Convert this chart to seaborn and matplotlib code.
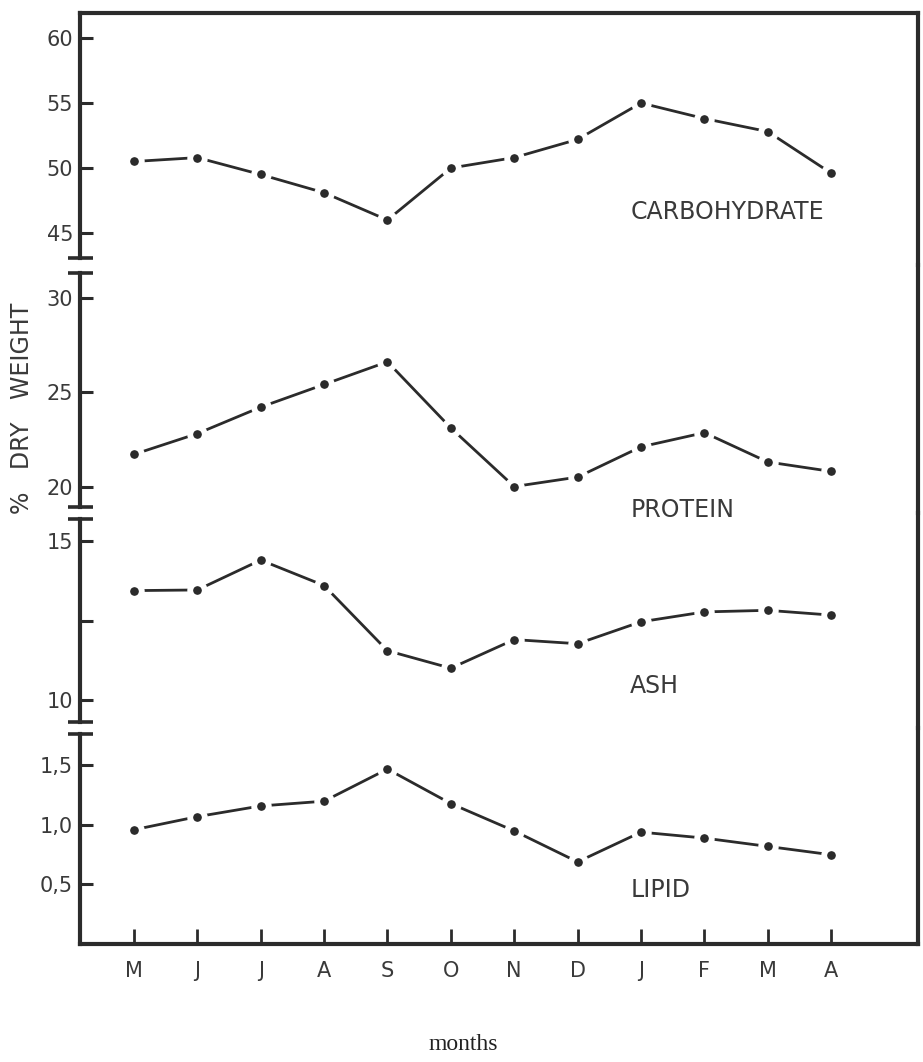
import numpy as np
import pandas as pd
import matplotlib
matplotlib.use("Agg")
import matplotlib.pyplot as plt
import matplotlib.transforms as mtransforms
import seaborn as sns

# ---- data ----
months = ["M", "J", "J", "A", "S", "O", "N", "D", "J", "F", "M", "A"]
carbohydrate = [50.5, 50.8, 49.5, 48.1, 46.0, 50.0, 50.8, 52.2, 55.0, 53.8, 52.8, 49.6]
protein = [21.7, 22.8, 24.2, 25.4, 26.6, 23.1, 20.0, 20.5, 22.1, 22.85, 21.3, 20.8]
ash = [13.44, 13.46, 14.4, 13.6, 11.55, 11.0, 11.9, 11.77, 12.46, 12.77, 12.82, 12.67]
lipid = [0.96, 1.07, 1.16, 1.2, 1.47, 1.18, 0.95, 0.69, 0.94, 0.89, 0.82, 0.75]

series_names = ["CARBOHYDRATE", "PROTEIN", "ASH", "LIPID"]
series_values = [carbohydrate, protein, ash, lipid]
y_ticks = [[45, 50, 55, 60], [20, 25, 30], [10, 12.5, 15], [0.5, 1.0, 1.5]]
y_ticklabels = [["45", "50", "55", "60"], ["20", "25", "30"], ["10", "", "15"], ["0,5", "1,0", "1,5"]]

# ---- layout ----
sns.set_theme(style="white")
plt.rcParams["font.family"] = ["DejaVu Sans"]
INK = "#2b2b2b"
TXT = "#3a3a3a"

W, H = 923, 1062
fig = plt.figure(figsize=(W / 100, H / 100), dpi=100)

left_px, right_px = 80, 918
panel_px = [(13, 265), (265, 513), (513, 728), (728, 944)]
ylims = [(42.54, 61.92), (18.6, 31.72), (9.12, 15.88), (0.0, 1.815)]
spine_bounds = [(43.1, 61.92), (18.93, 31.31), (9.32, 15.69), (0.0, 1.765)]
label_pos = [46.6, 18.76, 10.44, 0.45]
x = np.arange(len(months))

for i in range(4):
    top, bot = panel_px[i]
    ax = fig.add_axes([left_px / W, 1 - bot / H, (right_px - left_px) / W, (bot - top) / H])
    ax.set_facecolor("none")
    df = pd.DataFrame({"month": x, "value": series_values[i]})
    sns.lineplot(data=df, x="month", y="value", ax=ax, color=INK, linewidth=2.0,
                 marker="o", markersize=10.5, markerfacecolor=INK,
                 markeredgecolor="white", markeredgewidth=4.2)
    ax.set_xlim(-0.85, 12.37)
    ax.set_ylim(*ylims[i])
    ax.set_xlabel("")
    ax.set_ylabel("")
    ax.set_yticks(y_ticks[i])
    ax.set_yticklabels(y_ticklabels[i])
    ax.tick_params(axis="y", direction="in", length=9, width=2.2, color=INK,
                   labelsize=15, labelcolor=TXT, pad=5, left=True)
    for s in ax.spines.values():
        s.set_color(INK)
        s.set_linewidth(3.0)
    ax.spines["left"].set_bounds(*spine_bounds[i])
    ax.spines["top"].set_visible(i == 0)
    ax.spines["bottom"].set_visible(i == 3)
    ax.spines["right"].set_visible(True)
    ax.grid(False)
    # break marks at the ends of each left-axis segment
    trans = mtransforms.blended_transform_factory(ax.transAxes, ax.transData)
    ends = []
    if i > 0:
        ends.append(spine_bounds[i][1])
    if i < 3:
        ends.append(spine_bounds[i][0])
    for e in ends:
        ax.plot([0], [e], transform=trans, marker="_", markersize=18,
                markeredgewidth=2.6, color=INK, clip_on=False)
    ax.text(7.83, label_pos[i], series_names[i], fontsize=17, color=TXT,
            ha="left", va="center", clip_on=False)
    if i < 3:
        ax.set_xticks([])
    else:
        ax.set_xticks(x)
        ax.set_xticklabels(months)
        ax.tick_params(axis="x", direction="in", length=11, width=2.0, color=INK,
                       labelsize=15, labelcolor=TXT, pad=12, bottom=True)

fig.text(22 / W, 1 - 408 / H, "%   DRY   WEIGHT", rotation=90, ha="center", va="center",
         fontsize=17, color=TXT)
fig.text(463 / W, 1 - 1045 / H, "months", ha="center", va="center",
         fontsize=17, color="#222222", family=["Liberation Serif", "DejaVu Serif"])

fig.savefig("out.png", dpi=100, facecolor="white")
